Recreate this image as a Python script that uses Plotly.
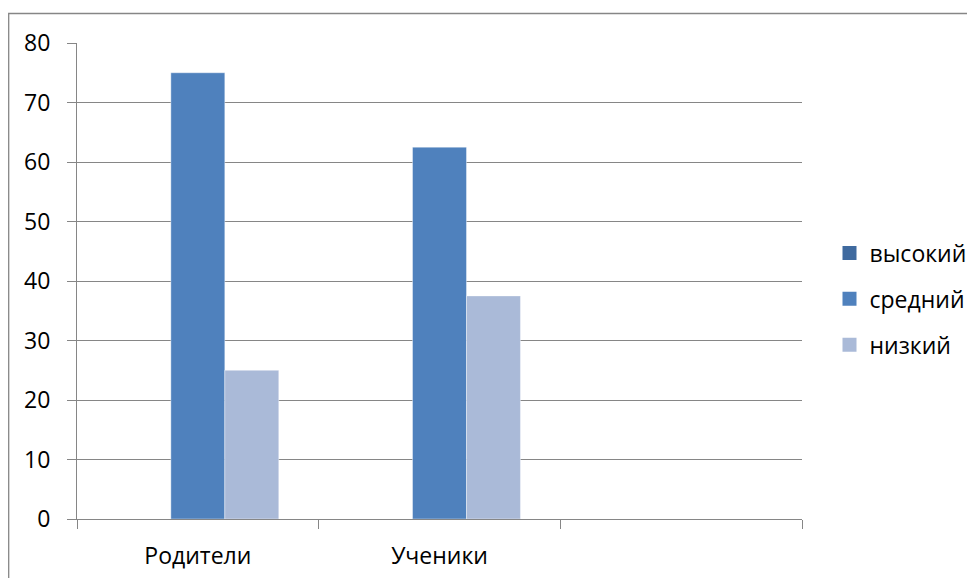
import plotly.graph_objects as go

categories = ["Родители", "Ученики", " "]
series_names = ["высокий", "средний", "низкий"]
vysokiy = [0, 0, None]
sredniy = [75, 62.5, None]
nizkiy = [25, 37.5, None]
y_ticks = [0, 10, 20, 30, 40, 50, 60, 70, 80]

colors = ["#3F6A9F", "#4F81BD", "#AABAD8"]
series = [vysokiy, sredniy, nizkiy]

OFF = 8  # default page body margin
W, H = 975 - OFF, 578 - OFF
L, R, T, B = 77 - OFF, 802 - OFF, 43 - OFF, 519 - OFF

fig = go.Figure()
for i, (name, vals) in enumerate(zip(series_names, series)):
    fig.add_trace(go.Bar(
        x=categories, y=vals, name=name, legendgroup=name, showlegend=False,
        marker=dict(color=colors[i], line=dict(width=0.8, color="rgba(255,255,255,0.5)")),
    ))
    fig.add_trace(go.Scatter(
        x=[None], y=[None], mode="markers", name=name, legendgroup=name,
        marker=dict(symbol="square", size=14, color=colors[i]),
    ))

font = dict(family="Open Sans, Noto Sans, sans-serif", size=23, color="#000000")

fig.update_layout(
    width=W, height=H,
    margin=dict(l=L, r=W - R, t=T, b=H - B, pad=0, autoexpand=False),
    paper_bgcolor="white", plot_bgcolor="white",
    barmode="group", bargap=0.33, bargroupgap=0,
    font=font,
    showlegend=True,
    legend=dict(xref="container", yref="container",
                x=(829.5 - OFF) / W, y=(H - (299 - OFF)) / H,
                xanchor="left", yanchor="middle",
                tracegroupgap=13, font=font, bgcolor="rgba(0,0,0,0)",
                itemwidth=30),
    xaxis=dict(type="category", categoryorder="array", categoryarray=categories,
               range=[-0.5, 2.5], showgrid=False, showline=True, linecolor="#868686",
               linewidth=1.2, ticks="outside", tickson="boundaries", ticklen=9,
               tickcolor="#868686", tickwidth=1.2, ticklabelstandoff=16, zeroline=False,
               automargin=False),
    yaxis=dict(range=[0, 80], tickvals=y_ticks, showgrid=True, gridcolor="#868686",
               gridwidth=1.2, showline=True, linecolor="#868686", linewidth=1.2,
               ticks="outside", ticklen=9, tickcolor="#868686", tickwidth=1.2,
               ticklabelstandoff=12, zeroline=False, automargin=False),
)

pw, ph = R - L, B - T
fig.add_shape(type="rect", xref="paper", yref="paper",
              x0=(8.7 - OFF - L) / pw, x1=(990 - L) / pw,
              y0=(B - 600) / ph, y1=(B - (13.5 - OFF)) / ph,
              line=dict(color="#868686", width=1.3), fillcolor="rgba(0,0,0,0)", layer="below")

fig.write_html("out.html")
